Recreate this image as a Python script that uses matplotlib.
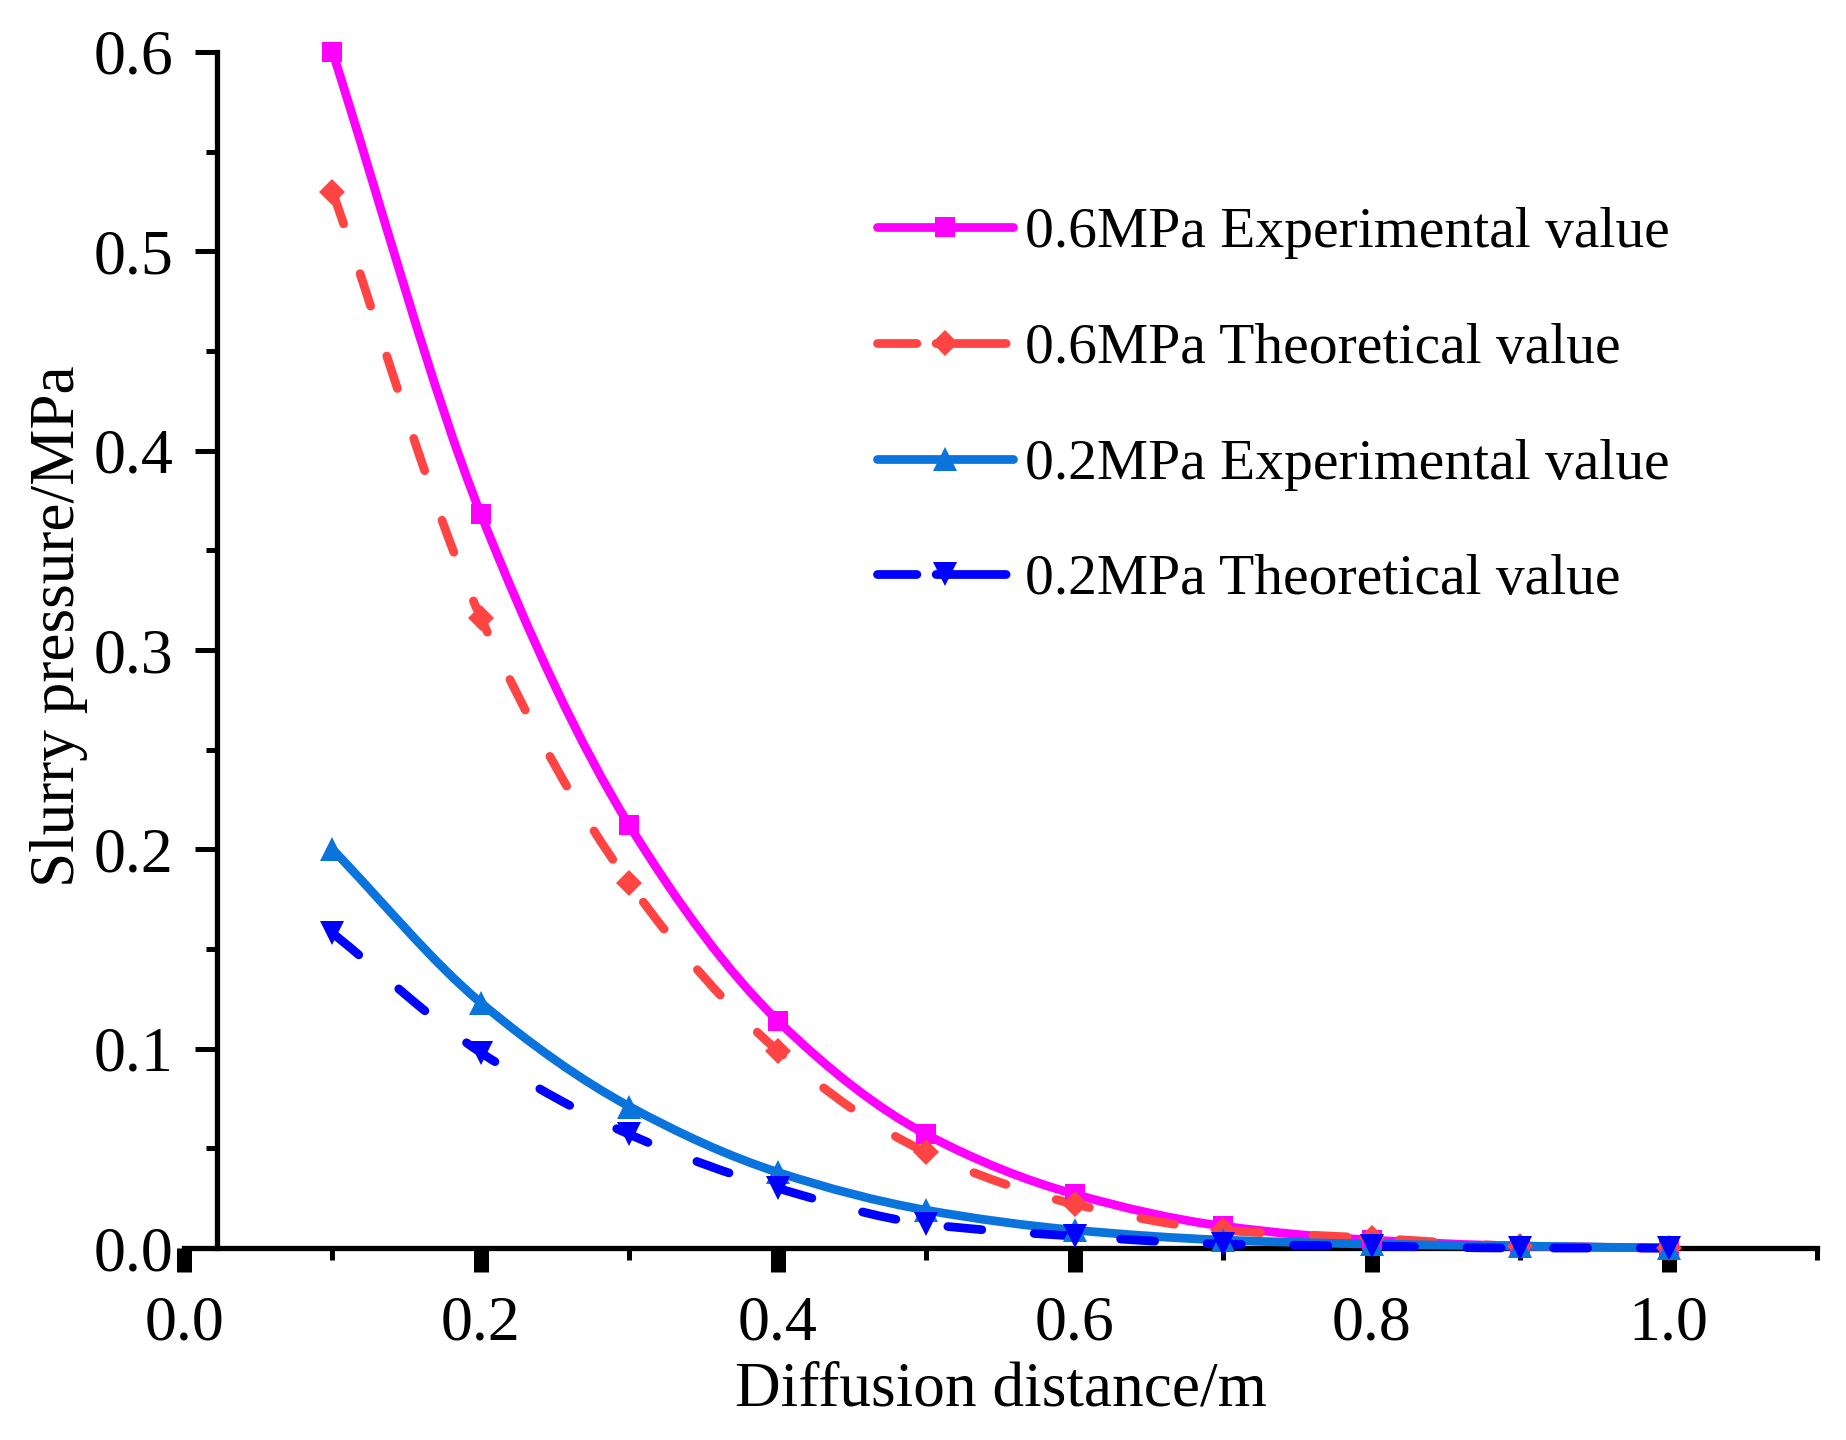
import numpy as np
import matplotlib
matplotlib.use("Agg")
import matplotlib.pyplot as plt
from matplotlib.path import Path
from matplotlib.patches import PathPatch
from matplotlib.lines import Line2D
from matplotlib.ticker import FixedLocator, FormatStrFormatter

plt.rcParams['font.family'] = ['Liberation Serif', 'DejaVu Serif']

# data
distance = [0.1, 0.2, 0.3, 0.4, 0.5, 0.6, 0.7, 0.8, 0.9, 1.0]
exp_06 = [0.600, 0.368, 0.212, 0.114, 0.057, 0.027, 0.011, 0.004, 0.001, 0.000]
theo_06 = [0.530, 0.316, 0.183, 0.099, 0.048, 0.022, 0.009, 0.005, 0.001, 0.000]
exp_02 = [0.200, 0.123, 0.071, 0.038, 0.019, 0.009, 0.004, 0.002, 0.001, 0.000]
theo_02 = [0.158, 0.098, 0.057, 0.030, 0.012, 0.006, 0.002, 0.001, 0.000, 0.000]

labels = ["0.6MPa Experimental value", "0.6MPa Theoretical value",
          "0.2MPa Experimental value", "0.2MPa Theoretical value"]
x_major = [0.0, 0.2, 0.4, 0.6, 0.8, 1.0]
x_minor = [0.1, 0.3, 0.5, 0.7, 0.9, 1.1]
y_major = [0.0, 0.1, 0.2, 0.3, 0.4, 0.5, 0.6]
y_minor = [0.05, 0.15, 0.25, 0.35, 0.45, 0.55]


# smooth curve through the points (like Origin's spline connect), as bezier path
def smooth_path(x, y):
    x = np.asarray(x, float)
    y = np.asarray(y, float)
    h = np.diff(x)
    d = np.diff(y) / h
    m = np.zeros_like(y)
    m[0] = d[0]
    m[-1] = d[-1]
    for i in range(1, len(y) - 1):
        if d[i - 1] * d[i] > 0:
            m[i] = 2.0 / (1.0 / d[i - 1] + 1.0 / d[i])
    verts = [(x[0], y[0])]
    codes = [Path.MOVETO]
    for i in range(len(h)):
        verts += [(x[i] + h[i] / 3, y[i] + m[i] * h[i] / 3),
                  (x[i + 1] - h[i] / 3, y[i + 1] - m[i + 1] * h[i] / 3),
                  (x[i + 1], y[i + 1])]
        codes += [Path.CURVE4] * 3
    return Path(verts, codes)


fig = plt.figure(figsize=(18.46, 14.40), dpi=100)
ax = fig.add_axes([0.0997, 0.1333, 0.8846, 0.8306])

series = [
    (exp_06, '#FF00FF', 's', 14, '-'),
    (theo_06, '#FF4444', 'D', 13, (0, (3.9, 6.0))),
    (exp_02, '#0A74DC', '^', 17, '-'),
    (theo_02, '#0000FF', 'v', 17, (0, (3.9, 6.0))),
]
lw = 6.3
handles = []
for (vals, col, mk, ms, ls), lab in zip(series, labels):
    patch = PathPatch(smooth_path(distance, vals), fill=False, edgecolor=col,
                      linewidth=lw, linestyle=ls, capstyle='round',
                      joinstyle='round', clip_on=False, zorder=3)
    ax.add_patch(patch)
    ax.plot(distance, vals, linestyle='none', marker=mk, markersize=ms,
            color=col, markeredgewidth=0, clip_on=False, zorder=4)
    hls = '-' if ls == '-' else (0, (4.5, 2.2, 8, 2))
    handles.append(Line2D([], [], color=col, linewidth=lw, linestyle=hls,
                          marker=mk, markersize=ms, markeredgewidth=0,
                          solid_capstyle='round', dash_capstyle='round'))

ax.set_xlim(0, 1.1)
ax.set_ylim(0, 0.6)

ax.spines['top'].set_visible(False)
ax.spines['right'].set_visible(False)
ax.spines['left'].set_position(('data', 0.022))
ax.spines['left'].set_linewidth(3.8)
ax.spines['bottom'].set_linewidth(3.8)

ax.xaxis.set_major_locator(FixedLocator(x_major))
ax.xaxis.set_minor_locator(FixedLocator(x_minor))
ax.yaxis.set_major_locator(FixedLocator(y_major))
ax.yaxis.set_minor_locator(FixedLocator(y_minor))
ax.xaxis.set_major_formatter(FormatStrFormatter('%.1f'))
ax.yaxis.set_major_formatter(FormatStrFormatter('%.1f'))

ax.tick_params(axis='x', which='major', direction='out', length=17, width=10.8,
               pad=17, labelsize=46)
ax.tick_params(axis='x', which='minor', direction='out', length=8.5, width=3.6)
ax.tick_params(axis='y', which='major', direction='out', length=16, width=3.6,
               pad=15, labelsize=46)
ax.tick_params(axis='y', which='minor', direction='out', length=8, width=3.6)

ax.set_xlabel("Diffusion distance/m", fontsize=45.5)
ax.set_ylabel("Slurry pressure/MPa", fontsize=45.5)
ax.xaxis.set_label_coords(0.5, -0.095)
ax.yaxis.set_label_coords(-0.059, 0.52)

ax.legend(handles, labels, loc='upper left', bbox_to_anchor=(0.4244, 0.8705),
          frameon=False, fontsize=41.5, handlelength=2.35, handletextpad=0.22,
          labelspacing=1.1, borderpad=0, borderaxespad=0)

fig.savefig("out.png", dpi=100)
